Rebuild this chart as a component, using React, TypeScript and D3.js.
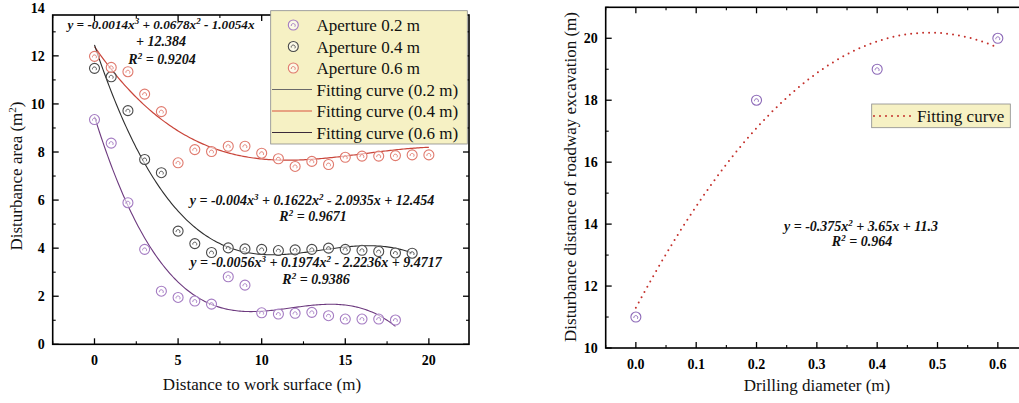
import React from "react";
import * as d3 from "d3";

// left panel: disturbance area vs distance to work surface
const distance02 = [0, 1, 2, 3, 4, 5, 6, 7, 8, 9, 10, 11, 12, 13, 14, 15, 16, 17, 18];
const area02 = [9.35, 8.37, 5.89, 3.95, 2.21, 1.95, 1.8, 1.67, 2.81, 2.46, 1.31, 1.26, 1.29, 1.33, 1.19, 1.05, 1.05, 1.05, 1.01];
const distance04 = [0, 1, 2, 3, 4, 5, 6, 7, 8, 9, 10, 11, 12, 13, 14, 15, 16, 17, 18, 19];
const area04 = [11.48, 11.13, 9.72, 7.69, 7.14, 4.71, 4.19, 3.82, 4.01, 3.97, 3.95, 3.9, 3.93, 3.95, 4.0, 3.95, 3.91, 3.86, 3.8, 3.79];
const distance06 = [0, 1, 2, 3, 4, 5, 6, 7, 8, 9, 10, 11, 12, 13, 14, 15, 16, 17, 18, 19, 20];
const area06 = [11.98, 11.52, 11.34, 10.41, 9.68, 7.55, 8.1, 8.02, 8.24, 8.24, 7.95, 7.72, 7.4, 7.61, 7.48, 7.78, 7.83, 7.83, 7.85, 7.88, 7.88];

// printed fit coefficients, highest power first
const fitRed = [-0.0014, 0.0678, -1.0054, 12.384];
const fitBlack = [-0.004, 0.1622, -2.0935, 12.454];
const fitPurple = [-0.0056, 0.1974, -2.2236, 9.4717];

const leftXTicks = [0, 5, 10, 15, 20];
const leftYTicks = [0, 2, 4, 6, 8, 10, 12, 14];
const legendLabels = [
  "Aperture 0.2 m",
  "Aperture 0.4 m",
  "Aperture 0.6 m",
  "Fitting curve (0.2 m)",
  "Fitting curve (0.4 m)",
  "Fitting curve (0.6 m)",
];

// right panel: disturbance distance vs drilling diameter
const diameters = [0, 0.2, 0.4, 0.6];
const disturbance = [11, 18, 19, 20];
const fitRight = [-0.375, 3.65, 11.3]; // x in dm
const rightXTicks = [0, 0.1, 0.2, 0.3, 0.4, 0.5, 0.6];
const rightYTicks = [10, 12, 14, 16, 18, 20];

const serif = "'Liberation Serif', 'Times New Roman', serif";
const cPurple = "#a47bc2";
const cBlack = "#4a4a4a";
const cRed = "#e07a6e";

const poly = (c, x) => c.reduce((acc, k) => acc * x + k, 0);

const Marker = ({ x, y, color }) => (
  <g>
    <circle cx={x} cy={y} r={5} fill="white" fillOpacity={0.6} stroke={color} strokeWidth={1.1} />
    <path d={`M${x - 2},${y + 1} A2,2 0 1 1 ${x + 1.5},${y + 1.8}`} fill="none" stroke={color} strokeWidth={0.9} />
  </g>
);

// text with ^n superscripts
const Eq = ({ x, y, text, size = 14 }) => {
  const parts = text.split(/(\^\d)/);
  return (
    <text x={x} y={y} textAnchor="middle" fontFamily={serif} fontSize={size} fontWeight="bold" fontStyle="italic" fill="#111">
      {parts.map((p, i) =>
        p.startsWith("^") ? (
          <tspan key={i} fontSize={9} dy={-5}>{p.slice(1)}</tspan>
        ) : (
          <tspan key={i} dy={i > 0 && parts[i - 1].startsWith("^") ? 5 : 0}>{p}</tspan>
        )
      )}
    </text>
  );
};

const Frame = ({ x, y, xTicks, xMinor, yTicks, yMinor, fmtX, fmtY }) => {
  const [x0, x1] = x.range();
  const [y0, y1] = y.range();
  const major = 6;
  const minor = 3;
  return (
    <g>
      {xTicks.map((t) => (
        <g key={"xt" + t}>
          <line x1={x(t)} x2={x(t)} y1={y0} y2={y0 - major} stroke="black" strokeWidth={1.3} />
          <line x1={x(t)} x2={x(t)} y1={y1} y2={y1 + major} stroke="black" strokeWidth={1.3} />
          <text x={x(t)} y={y0 + 21} textAnchor="middle" fontFamily={serif} fontWeight="bold" fontSize={14}>{fmtX(t)}</text>
        </g>
      ))}
      {xMinor.map((t) => (
        <g key={"xm" + t}>
          <line x1={x(t)} x2={x(t)} y1={y0} y2={y0 - minor} stroke="black" strokeWidth={1.1} />
          <line x1={x(t)} x2={x(t)} y1={y1} y2={y1 + minor} stroke="black" strokeWidth={1.1} />
        </g>
      ))}
      {yTicks.map((t) => (
        <g key={"yt" + t}>
          {y(t) >= y1 - 0.5 && (
            <>
              <line x1={x0} x2={x0 + major} y1={y(t)} y2={y(t)} stroke="black" strokeWidth={1.3} />
              <line x1={x1} x2={x1 - major} y1={y(t)} y2={y(t)} stroke="black" strokeWidth={1.3} />
            </>
          )}
          <text x={x0 - 8} y={y(t) + 5} textAnchor="end" fontFamily={serif} fontWeight="bold" fontSize={14}>{fmtY(t)}</text>
        </g>
      ))}
      {yMinor.map((t) => (
        <g key={"ym" + t}>
          <line x1={x0} x2={x0 + minor} y1={y(t)} y2={y(t)} stroke="black" strokeWidth={1.1} />
          <line x1={x1} x2={x1 - minor} y1={y(t)} y2={y(t)} stroke="black" strokeWidth={1.1} />
        </g>
      ))}
      <rect x={x0} y={y1} width={x1 - x0} height={y0 - y1} fill="none" stroke="black" strokeWidth={1.6} />
    </g>
  );
};

export default function App() {
  // ---- left panel
  const xL = d3.scaleLinear().domain([-2.5, 22.4]).range([52.7, 469]);
  const yL = d3.scaleLinear().domain([0, 13.7]).range([344.3, 15]);
  const lineL = d3
    .line()
    .x((d) => xL(d[0]))
    .y((d) => yL(d[1]));
  const curve = (c, end) => lineL(d3.range(0, end + 0.001, 0.1).map((v) => [v, poly(c, v)]));

  // ---- right panel
  const xR = d3.scaleLinear().domain([-0.05, 0.65]).range([605.7, 1028]);
  const yR = d3.scaleLinear().domain([10, 21]).range([348, 7.3]);
  const lineR = d3
    .line()
    .x((d) => xR(d[0]))
    .y((d) => yR(d[1]));
  const rightCurve = lineR(d3.range(0, 0.6001, 0.005).map((v) => [v, poly(fitRight, v * 10)]));

  const series = [
    { xs: distance02, ys: area02, color: cPurple },
    { xs: distance04, ys: area04, color: cBlack },
    { xs: distance06, ys: area06, color: cRed },
  ];
  const legendLines = ["#6a6a6a", "#d9533f", "#3a2a3a"];
  const legendColors = [cPurple, cBlack, cRed];

  return (
    <svg
      width={1019}
      height={403}
      style={{ position: "absolute", left: 0, top: 0, background: "white" }}
    >
      {/* left panel */}
      <path d={curve(fitRed, 20)} fill="none" stroke="#c9453a" strokeWidth={1.2} />
      <path d={curve(fitBlack, 19)} fill="none" stroke="#2e2e2e" strokeWidth={1.1} />
      <path d={curve(fitPurple, 18)} fill="none" stroke="#6d3a7f" strokeWidth={1.1} />
      {series.map((s, si) =>
        s.xs.map((v, i) => <Marker key={si + "-" + i} x={xL(v)} y={yL(s.ys[i])} color={s.color} />)
      )}
      <Frame
        x={xL}
        y={yL}
        xTicks={leftXTicks}
        xMinor={[-2.5, 2.5, 7.5, 12.5, 17.5]}
        yTicks={leftYTicks}
        yMinor={[1, 3, 5, 7, 9, 11, 13]}
        fmtX={(t) => String(t)}
        fmtY={(t) => String(t)}
      />
      <Eq x={161} y={29} size={13.2} text="y = -0.0014x^3 + 0.0678x^2 - 1.0054x" />
      <Eq x={161} y={46} text="+ 12.384" />
      <Eq x={162} y={64} text="R^2 = 0.9204" />
      <Eq x={312} y={205} text="y = -0.004x^3 + 0.1622x^2 - 2.0935x + 12.454" />
      <Eq x={313} y={221} text="R^2 = 0.9671" />
      <Eq x={316} y={267} text="y = -0.0056x^3 + 0.1974x^2 - 2.2236x + 9.4717" />
      <Eq x={316} y={284} text="R^2 = 0.9386" />

      {/* left legend */}
      <rect x={270.7} y={10.7} width={196.6} height={133.3} fill="#f6f1c4" stroke="#8a8a8a" strokeWidth={0.8} />
      {legendLabels.map((lab, i) => {
        const cy = 25 + i * 21.5;
        return (
          <g key={lab}>
            {i < 3 ? (
              <Marker x={293.3} y={cy} color={legendColors[i]} />
            ) : (
              <line x1={272} x2={312} y1={cy} y2={cy} stroke={legendLines[i - 3]} strokeWidth={1} />
            )}
            <text x={316.5} y={cy + 6} fontFamily={serif} fontSize={17} fill="#111">{lab}</text>
          </g>
        );
      })}

      <text
        transform="translate(22,176) rotate(-90)"
        textAnchor="middle"
        fontFamily={serif}
        fontSize={17}
        fill="#111"
      >
        Disturbance area (m<tspan fontSize={11} dy={-6}>2</tspan><tspan dy={6}>)</tspan>
      </text>
      <text x={262} y={390} textAnchor="middle" fontFamily={serif} fontSize={17} fill="#111">
        Distance to work surface (m)
      </text>

      {/* right panel */}
      <path
        d={rightCurve}
        fill="none"
        stroke="#c4302b"
        strokeWidth={2}
        strokeDasharray="0 6"
        strokeLinecap="round"
      />
      {diameters.map((v, i) => (
        <Marker key={"r" + i} x={xR(v)} y={yR(disturbance[i])} color="#8d6ab8" />
      ))}
      <Frame
        x={xR}
        y={yR}
        xTicks={rightXTicks}
        xMinor={[-0.05, 0.05, 0.15, 0.25, 0.35, 0.45, 0.55]}
        yTicks={rightYTicks}
        yMinor={[11, 13, 15, 17, 19, 21]}
        fmtX={(t) => t.toFixed(1)}
        fmtY={(t) => String(t)}
      />
      <Eq x={861} y={231} text="y = -0.375x^2 + 3.65x + 11.3" />
      <Eq x={862} y={246} text="R^2 = 0.964" />

      <rect x={871.7} y={104} width={138.6} height={23.7} fill="#f6f1c4" stroke="#8a8a8a" strokeWidth={0.8} />
      <line
        x1={874}
        x2={913}
        y1={116}
        y2={116}
        stroke="#c4302b"
        strokeWidth={2}
        strokeDasharray="0 6"
        strokeLinecap="round"
      />
      <text x={917} y={121.5} fontFamily={serif} fontSize={17} fill="#111">Fitting curve</text>

      <text
        transform="translate(576,177) rotate(-90)"
        textAnchor="middle"
        fontFamily={serif}
        fontSize={17}
        fill="#111"
      >
        Disturbance distance of roadway excavation (m)
      </text>
      <text x={817} y={391} textAnchor="middle" fontFamily={serif} fontSize={17} fill="#111">
        Drilling diameter (m)
      </text>
    </svg>
  );
}
